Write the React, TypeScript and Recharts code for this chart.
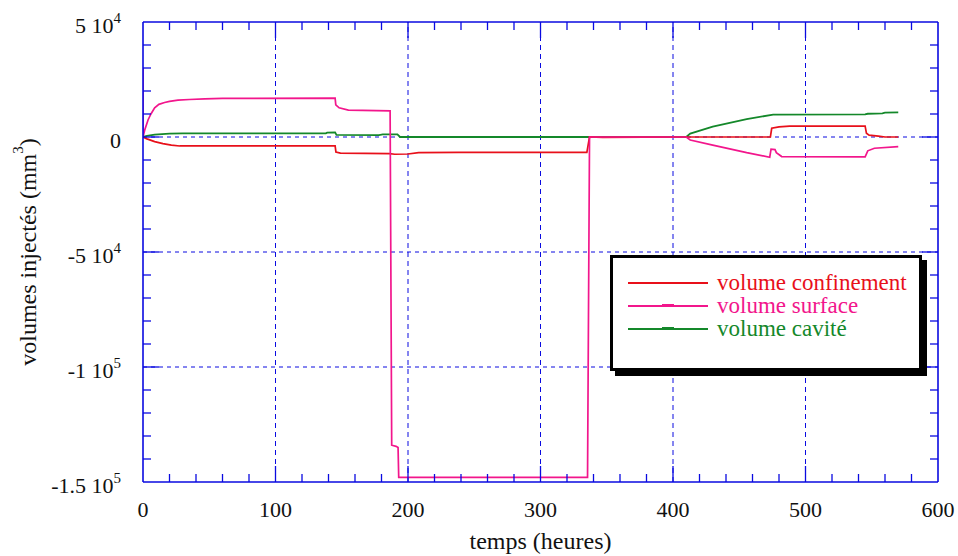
import React from "react";
import {
  LineChart,
  Line,
  XAxis,
  YAxis,
  ReferenceLine,
  Legend,
} from "recharts";

// temps (heures) / volume (mm3)
const confinementTime = [0, 3, 8.8, 15, 21.4, 27.7, 145, 145.6, 149, 186, 190, 200, 208, 238, 335, 337, 347, 410, 473.5, 474.5, 480, 488, 545, 546, 548, 555, 560, 570];
const confinementVolume = [0, -800, -2000, -2900, -3500, -3900, -3900, -6500, -7000, -7200, -7500, -7400, -6800, -6700, -6700, 0, -200, 0, 0, 3800, 4400, 4700, 4700, 1600, 800, 400, 0, 0];

const surfaceTime = [0, 0, 1.3, 3.8, 6, 8.8, 12, 16.3, 20, 26.4, 35, 46.6, 60, 145, 145.5, 148, 155, 186.5, 187.7, 191, 192.5, 193, 335.5, 337, 360, 410, 413, 430, 455.6, 473, 474, 477, 478, 482, 545, 547, 552, 570];
const surfaceVolume = [30000, 0, 3000, 7400, 10000, 12700, 14200, 15000, 15500, 16000, 16300, 16600, 16800, 16900, 14000, 12700, 11700, 11400, -134000, -134500, -135000, -148000, -148000, 0, 0, 0, -1300, -3500, -6800, -8800, -5300, -5500, -6800, -8500, -8600, -6000, -4900, -4200];

const cavityTime = [0, 3, 8.8, 20, 30, 138, 139, 145, 146, 178, 181, 192, 194, 410, 413, 430, 455.6, 475.6, 545, 547, 558, 560, 570];
const cavityVolume = [0, 500, 1000, 1500, 1600, 1600, 1900, 2000, 900, 800, 1100, 1100, 0, 0, 1500, 4500, 7800, 9700, 9800, 10100, 10300, 10600, 10700];

const seriesNames = ["volume confinement", "volume surface", "volume cavité"];
const seriesColors = ["#e8101a", "#f2168c", "#14882a"];
const legendMarks = [false, true, true];

const xTicks = [0, 20, 40, 60, 80, 100, 120, 140, 160, 180, 200, 220, 240, 260, 280, 300, 320, 340, 360, 380, 400, 420, 440, 460, 480, 500, 520, 540, 560, 580, 600];
const xGrid = [100, 200, 300, 400, 500];
const yTicks = [50000, 40000, 30000, 20000, 10000, 0, -10000, -20000, -30000, -40000, -50000, -60000, -70000, -80000, -90000, -100000, -110000, -120000, -130000, -140000, -150000];
const yGrid = [0, -50000, -100000];
const yLabelValues = [50000, 0, -50000, -100000, -150000];
const yLabelMantissa = ["5 10", "0", "-5 10", "-1 10", "-1.5 10"];
const yLabelExponent = ["4", "", "4", "5", "5"];

const FONT = '"Liberation Serif", "Times New Roman", serif';
const BLUE = "#0a0ae0";

const toPoints = (t: number[], v: number[]) => t.map((x, i) => ({ t: x, v: v[i] }));
const confinementData = toPoints(confinementTime, confinementVolume);
const surfaceData = toPoints(surfaceTime, surfaceVolume);
const cavityData = toPoints(cavityTime, cavityVolume);

function XTick(props: any) {
  const { x, y, payload, side } = props;
  const major = payload.value % 100 === 0;
  const len = major ? 16 : 8;
  const dir = side === "bottom" ? -1 : 1;
  const edge = payload.value === 0 || payload.value === 600;
  return (
    <g>
      {!edge && <line x1={x} y1={y} x2={x} y2={y + dir * len} stroke={BLUE} strokeWidth={1.3} />}
      {side === "bottom" && major && (
        <text x={x} y={y + 35} textAnchor="middle" fontFamily={FONT} fontSize={22} fill="#111">
          {payload.value}
        </text>
      )}
    </g>
  );
}

function YTick(props: any) {
  const { x, y, payload, side } = props;
  const major = payload.value % 50000 === 0;
  const len = major ? 16 : 8;
  const dir = side === "left" ? 1 : -1;
  const edge = payload.value === 50000 || payload.value === -150000;
  const idx = yLabelValues.indexOf(payload.value);
  return (
    <g>
      {!edge && <line x1={x} y1={y} x2={x + dir * len} y2={y} stroke={BLUE} strokeWidth={1.3} />}
      {side === "left" && idx >= 0 && (
        <text x={x - 22} y={y + 11} textAnchor="end" fontFamily={FONT} fontSize={22} fill="#111">
          {yLabelMantissa[idx]}
          {yLabelExponent[idx] && (
            <tspan dy={-10} fontSize={15}>
              {yLabelExponent[idx]}
            </tspan>
          )}
        </text>
      )}
    </g>
  );
}

function YTitle(props: any) {
  const { viewBox } = props;
  const cx = viewBox.x + 28;
  const cy = viewBox.y + viewBox.height / 2;
  return (
    <text
      x={cx}
      y={cy}
      transform={`rotate(-90 ${cx} ${cy})`}
      textAnchor="middle"
      dominantBaseline="central"
      fontFamily={FONT}
      fontSize={24}
      fill="#111"
    >
      volumes injectés (mm
      <tspan dy={-10} fontSize={15}>3</tspan>
      <tspan dy={10}>)</tspan>
    </text>
  );
}

function XTitle(props: any) {
  const { viewBox } = props;
  return (
    <text
      x={viewBox.x + viewBox.width / 2}
      y={viewBox.y + 67}
      textAnchor="middle"
      fontFamily={FONT}
      fontSize={24}
      fill="#111"
    >
      temps (heures)
    </text>
  );
}

function LegendBox() {
  return (
    <div
      style={{
        width: 306,
        height: 97,
        border: "3px solid #000",
        boxShadow: "5px 5px 0 #000",
        background: "#fff",
        paddingTop: 13,
        boxSizing: "content-box",
        fontFamily: FONT,
        fontSize: 23,
      }}
    >
      {seriesNames.map((name, i) => (
        <div key={name} style={{ display: "flex", alignItems: "center", height: 23 }}>
          <div style={{ position: "relative", width: 80, height: 2, background: seriesColors[i], marginLeft: 15, marginRight: 9 }}>
            {legendMarks[i] && (
              <div style={{ position: "absolute", left: 34, top: -0.5, width: 12, height: 3, background: seriesColors[i] }} />
            )}
          </div>
          <span style={{ color: seriesColors[i], lineHeight: "23px" }}>{name}</span>
        </div>
      ))}
    </div>
  );
}

export default function App() {
  return (
    <div style={{ position: "absolute", left: 0, top: 0, width: 958, height: 556, background: "#fff" }}>
      <LineChart width={958} height={556} margin={{ top: 21, right: 19, left: 0, bottom: 0 }}>
        <XAxis
          dataKey="t"
          type="number"
          domain={[0, 600]}
          ticks={xTicks}
          interval={0}
          allowDataOverflow
          height={74}
          tickSize={0}
          tickMargin={0}
          axisLine={{ stroke: BLUE, strokeWidth: 1.6 }}
          tick={(p: any) => <XTick {...p} side="bottom" />}
          label={<XTitle />}
        />
        <XAxis
          xAxisId="top"
          orientation="top"
          dataKey="t"
          type="number"
          domain={[0, 600]}
          ticks={xTicks}
          interval={0}
          allowDataOverflow
          height={1}
          tickSize={0}
          tickMargin={0}
          axisLine={{ stroke: BLUE, strokeWidth: 1.6 }}
          tick={(p: any) => <XTick {...p} side="top" />}
        />
        <YAxis
          type="number"
          domain={[-150000, 50000]}
          ticks={yTicks}
          interval={0}
          allowDataOverflow
          width={143}
          tickSize={0}
          tickMargin={0}
          axisLine={{ stroke: BLUE, strokeWidth: 1.6 }}
          tick={(p: any) => <YTick {...p} side="left" />}
          label={<YTitle />}
        />
        <YAxis
          yAxisId="right"
          orientation="right"
          type="number"
          domain={[-150000, 50000]}
          ticks={yTicks}
          interval={0}
          allowDataOverflow
          width={1}
          tickSize={0}
          tickMargin={0}
          axisLine={{ stroke: BLUE, strokeWidth: 1.6 }}
          tick={(p: any) => <YTick {...p} side="right" />}
        />
        {xGrid.map((g) => (
          <ReferenceLine key={"x" + g} x={g} stroke={BLUE} strokeDasharray="5 4" strokeWidth={1} />
        ))}
        {yGrid.map((g) => (
          <ReferenceLine key={"y" + g} y={g} stroke={BLUE} strokeDasharray="4 4" strokeWidth={1} />
        ))}
        <Line data={cavityData} dataKey="v" name={seriesNames[2]} stroke={seriesColors[2]} strokeWidth={1.8} dot={false} type="linear" isAnimationActive={false} />
        <Line data={confinementData} dataKey="v" name={seriesNames[0]} stroke={seriesColors[0]} strokeWidth={1.7} dot={false} type="linear" isAnimationActive={false} />
        <Line
          data={surfaceData}
          dataKey="v"
          xAxisId="top"
          yAxisId="right"
          name={seriesNames[1]}
          stroke={seriesColors[1]}
          strokeWidth={1.7}
          dot={false}
          type="linear"
          isAnimationActive={false}
        />
        <Legend
          layout="vertical"
          align="center"
          verticalAlign="middle"
          content={() => <LegendBox />}
          wrapperStyle={{ left: 610, top: 255, width: "auto", height: "auto" }}
        />
      </LineChart>
    </div>
  );
}
